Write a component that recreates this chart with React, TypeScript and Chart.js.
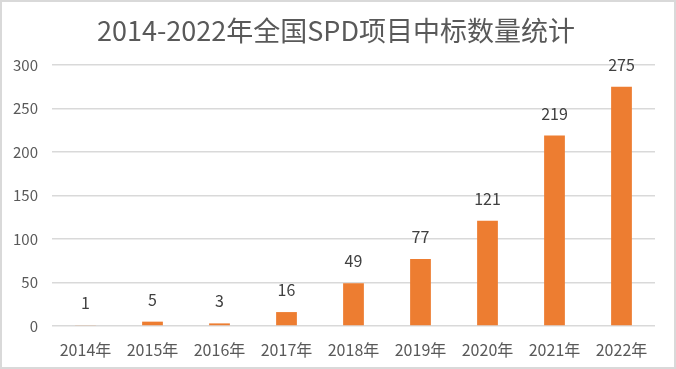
import React, { useEffect, useRef } from "react";
import { Chart, registerables } from "chart.js";

Chart.register(...registerables);

const categories = ["2014年", "2015年", "2016年", "2017年", "2018年", "2019年", "2020年", "2021年", "2022年"];
const counts = [1, 5, 3, 16, 49, 77, 121, 219, 275];
const titleText = "2014-2022年全国SPD项目中标数量统计";

const FONT = "'Noto Sans CJK SC', 'Open Sans', sans-serif";

const titlePlugin = {
  id: "customTitle",
  afterDraw(chart: any) {
    const ctx = chart.ctx;
    ctx.save();
    ctx.fillStyle = "#595959";
    ctx.font = `27px ${FONT}`;
    ctx.textAlign = "center";
    ctx.textBaseline = "middle";
    ctx.fillText(titleText, 336, 31);
    ctx.restore();
  },
};

const labelPlugin = {
  id: "barLabels",
  afterDatasetsDraw(chart: any) {
    const ctx = chart.ctx;
    const meta = chart.getDatasetMeta(0);
    ctx.save();
    ctx.fillStyle = "#404040";
    ctx.font = `16px ${FONT}`;
    ctx.textAlign = "center";
    ctx.textBaseline = "middle";
    meta.data.forEach((bar: any, i: number) => {
      ctx.fillText(String(counts[i]), bar.x, bar.y - 22);
    });
    ctx.restore();
  },
};

export default function App() {
  const ref = useRef<HTMLCanvasElement>(null);
  useEffect(() => {
    document.body.style.margin = "0";
    const chart = new Chart(ref.current!, {
      type: "bar",
      data: {
        labels: categories,
        datasets: [
          {
            data: counts,
            backgroundColor: "#ED7D31",
            barPercentage: 0.62,
            categoryPercentage: 0.5,
          },
        ],
      },
      options: {
        animation: false,
        responsive: false,
        layout: { padding: { top: 65, right: 21, bottom: 0, left: 0 } },
        plugins: { legend: { display: false }, title: { display: false }, tooltip: { enabled: false } },
        scales: {
          x: {
            grid: { display: false },
            border: { display: false },
            ticks: { color: "#595959", font: { family: FONT, size: 16 }, padding: 6, maxRotation: 0 },
            afterFit(scale: any) {
              scale.height = 43;
            },
          },
          y: {
            min: 0,
            max: 300,
            ticks: { stepSize: 50, color: "#595959", font: { family: FONT, size: 15 }, padding: 14 },
            grid: { color: "#d9d9d9", lineWidth: 1.5, drawTicks: false },
            border: { display: false },
            afterFit(scale: any) {
              scale.width = 52;
            },
          },
        },
      },
      plugins: [titlePlugin, labelPlugin],
    });
    return () => chart.destroy();
  }, []);
  return (
    <div style={{ position: "fixed", left: 0, top: 0, width: 676, height: 369, background: "#fff" }}>
      <canvas ref={ref} width={676} height={369} style={{ position: "absolute", left: 0, top: 0 }} />
      <div
        style={{
          position: "absolute",
          left: 0,
          top: 0,
          width: 676,
          height: 369,
          boxSizing: "border-box",
          border: "2px solid #d9d9d9",
          pointerEvents: "none",
        }}
      />
    </div>
  );
}
